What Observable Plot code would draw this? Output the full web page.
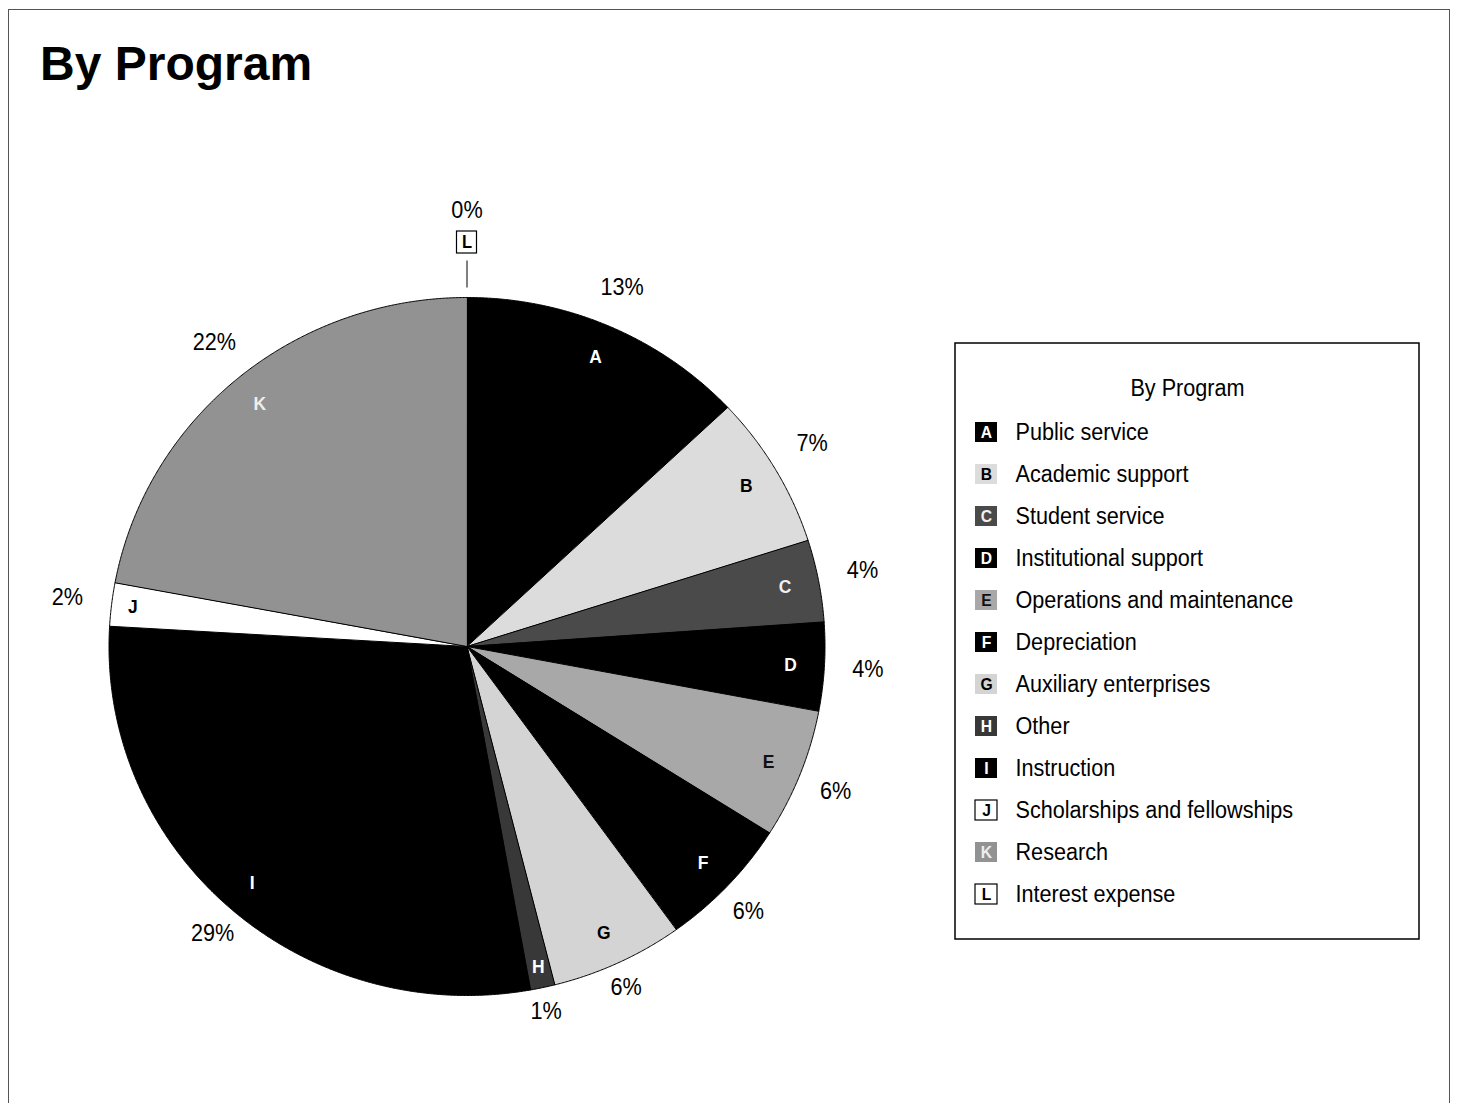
<!DOCTYPE html>
<html>
<head>
<meta charset="utf-8">
<script src="https://cdn.jsdelivr.net/npm/d3@7"></script>
<script src="https://cdn.jsdelivr.net/npm/@observablehq/plot@0.6"></script>
<style>
  body { margin: 0; background: #fff; }
  #wrap { position: relative; width: 1458px; height: 1103px; overflow: hidden; background: #fff; }
  #border { position: absolute; left: 8px; top: 9px; width: 1442px; height: 1200px; border: 1.5px solid #555; box-sizing: border-box; }
  h1 { position: absolute; left: 40px; top: 36px; margin: 0; line-height: 48px;
       font: bold 48px "Liberation Sans", Arial, Helvetica, sans-serif; color: #000; }
  #chart { position: absolute; left: 0; top: 0; }
</style>
</head>
<body>
<div id="wrap">
  <div id="border"></div>
  <div id="chart"></div>
  <h1>By Program</h1>
</div>
<script>
// ---- data ----
const keys = ["A", "B", "C", "D", "E", "F", "G", "H", "I", "J", "K", "L"];
const names = ["Public service", "Academic support", "Student service", "Institutional support",
  "Operations and maintenance", "Depreciation", "Auxiliary enterprises", "Other", "Instruction",
  "Scholarships and fellowships", "Research", "Interest expense"];
const values = [13.0, 7.1, 3.8, 4.1, 6.0, 6.1, 6.0, 1.1, 28.8, 2.0, 22.1, 0];
const pctLabels = ["13%", "7%", "4%", "4%", "6%", "6%", "6%", "1%", "29%", "2%", "22%", "0%"];
const legendTitle = "By Program";

// ---- styles (not data) ----
const fillOf = {A: "#000", B: "#dcdcdc", C: "#4a4a4a", D: "#000", E: "#a8a8a8", F: "#000",
  G: "#d4d4d4", H: "#383838", I: "#000", J: "#fff", K: "#929292", L: "#fff"};
const inkOf = {A: "#fff", B: "#000", C: "#f0f0f0", D: "#fff", E: "#111", F: "#fff",
  G: "#000", H: "#fff", I: "#fff", J: "#000", K: "#eee", L: "#000"};
const boxed = new Set(["J", "L"]);

const W = 1458, H = 1103;
const cx = 466.5, cy = 646, Rx = 358, Ry = 349;
const font = '"Liberation Sans", Arial, Helvetica, sans-serif';

const rows = keys.map((k, i) => ({key: k, name: names[i], value: values[i], pct: pctLabels[i], i}));
const arcs = d3.pie().sort(null).value(d => d.value)(rows);

// normalized radius -> pixel position (slightly elliptical pie as in the scan)
const px = (r, a) => cx + r * Rx * Math.sin(a);
const py = (r, a) => cy - r * Ry * Math.cos(a);

const sliceMarks = arcs.filter(a => a.endAngle > a.startAngle).map(a => {
  const n = Math.max(2, Math.ceil((a.endAngle - a.startAngle) / 0.004));
  const pts = [{x: cx, y: cy}];
  for (let j = 0; j <= n; j++) {
    const t = a.startAngle + (a.endAngle - a.startAngle) * j / n;
    pts.push({x: px(1, t), y: py(1, t)});
  }
  return Plot.line(pts, {x: "x", y: "y", curve: "linear-closed",
    fill: fillOf[a.data.key], stroke: "#000", strokeWidth: 1});
});

const mid = a => (a.startAngle + a.endAngle) / 2;
const nonzero = arcs.filter(a => a.value > 0);
const zero = arcs.filter(a => a.value === 0);

const letterR = a => (a.endAngle - a.startAngle) < 0.15 ? 0.94 : 0.905;
const letters = nonzero.map(a => ({key: a.data.key, x: px(letterR(a), mid(a)), y: py(letterR(a), mid(a)), ink: inkOf[a.data.key]}));
// outside labels: distance grows where the text box is seen side-on
const labR = a => 380 + 22 * Math.sin(a) ** 2 + 8 * Math.cos(a);
const pcts = nonzero.map(a => {
  const m = mid(a), r = labR(m);
  return {t: a.data.pct, x: cx + r * Math.sin(m), y: cy - r * Math.cos(m)};
});

// zero-value callouts (leader, boxed letter, percent)
const at = (a, d) => ({x: cx + d * Math.sin(mid(a)), y: cy - (Ry + (d - Rx)) * Math.cos(mid(a))});
const leaders = zero.map(a => {
  const p1 = at(a, Rx + 10), p2 = at(a, Rx + 37);
  return {x1: p1.x, y1: p1.y, x2: p2.x, y2: p2.y};
});
const zeroBoxes = zero.map(a => ({key: a.data.key, ...at(a, Rx + 55)}));
const zeroPcts = zero.map(a => ({t: a.data.pct, ...at(a, Rx + 87)}));

// legend layout
const LX1 = 955, LX2 = 1419, LY1 = 343, LY2 = 939;
const rowY = i => 432 + i * 42;
const iconX = 986;

const chart = Plot.plot({
  width: W, height: H,
  margin: 0,
  x: {domain: [0, W], range: [0, W], axis: null},
  y: {domain: [0, H], range: [0, H], axis: null},
  color: {type: "identity"},
  style: {background: "transparent", overflow: "visible"},
  marks: [
    ...sliceMarks,
    Plot.text(letters, {x: "x", y: "y", text: "key", fill: "ink", fontSize: 19, fontWeight: "bold",
      fontFamily: font, textAnchor: "middle", lineAnchor: "middle"}),
    Plot.text(pcts, {x: "x", y: "y", text: "t", fill: "#000", fontSize: 23.5,
      fontFamily: font, textAnchor: "middle", lineAnchor: "middle"}),
    Plot.link(leaders, {x1: "x1", y1: "y1", x2: "x2", y2: "y2", stroke: "#000", strokeWidth: 1}),
    Plot.rect(zeroBoxes, {x1: d => d.x - 10, x2: d => d.x + 10, y1: d => d.y - 11, y2: d => d.y + 11,
      fill: "#fff", stroke: "#000", strokeWidth: 1.2}),
    Plot.text(zeroBoxes, {x: "x", y: "y", text: "key", fill: "#000", fontSize: 18, fontWeight: "bold",
      fontFamily: font, textAnchor: "middle", lineAnchor: "middle"}),
    Plot.text(zeroPcts, {x: "x", y: "y", text: "t", fill: "#000", fontSize: 23.5,
      fontFamily: font, textAnchor: "middle", lineAnchor: "middle"}),
    // legend
    Plot.rect([0], {x1: LX1, x2: LX2, y1: LY1, y2: LY2, fill: "none", stroke: "#000", strokeWidth: 1.5}),
    Plot.text([legendTitle], {x: (LX1 + LX2) / 2, y: 388, text: d => d, fill: "#000", fontSize: 23.5,
      fontFamily: font, textAnchor: "middle", lineAnchor: "middle"}),
    Plot.rect(rows, {x1: iconX - 11, x2: iconX + 11, y1: d => rowY(d.i) - 10, y2: d => rowY(d.i) + 10,
      fill: d => fillOf[d.key], stroke: d => boxed.has(d.key) ? "#000" : "none", strokeWidth: 1.2}),
    Plot.text(rows, {x: iconX, y: d => rowY(d.i), text: "key", fill: d => inkOf[d.key], fontSize: 17,
      fontWeight: "bold", fontFamily: font, textAnchor: "middle", lineAnchor: "middle"}),
    Plot.text(rows, {x: 1015, y: d => rowY(d.i), text: "name", fill: "#000", fontSize: 23.5,
      fontFamily: font, textAnchor: "start", lineAnchor: "middle"})
  ]
});
document.getElementById("chart").appendChild(chart);

// condense all chart text horizontally, like the narrow face of the original
chart.querySelectorAll("text").forEach(t => {
  const L = t.getComputedTextLength();
  if (L > 0) {
    t.setAttribute("textLength", (L * 0.92).toFixed(1));
    t.setAttribute("lengthAdjust", "spacingAndGlyphs");
  }
});
</script>
</body>
</html>
